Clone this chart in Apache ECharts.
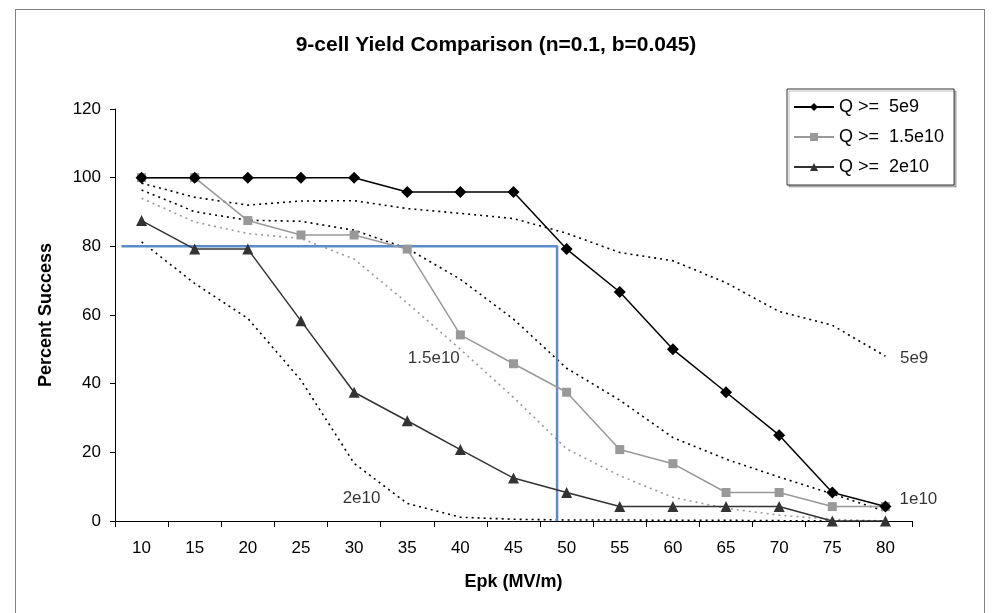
<!DOCTYPE html>
<html>
<head>
<meta charset="utf-8">
<script src="https://cdn.jsdelivr.net/npm/echarts@6/dist/echarts.min.js"></script>
<style>
  html, body { margin: 0; padding: 0; background: #fff; }
  #chart { width: 992px; height: 613px; }
  #frame { position: absolute; left: 15px; top: 9px; width: 968px; height: 700px; border: 1px solid #808080; pointer-events: none; }
</style>
</head>
<body>
<div id="chart"></div>
<div id="frame"></div>
<script>
// Categories (Epk, MV/m)
const epk = ['10','15','20','25','30','35','40','45','50','55','60','65','70','75','80'];

// Measured yields (percent success)
const q5e9   = [100,100,100,100,100,95.8,95.8,95.8,79.2,66.7,50,37.5,25,8.3,4.2];
const q15e10 = [100,100,87.5,83.3,83.3,79.2,54.2,45.8,37.5,20.8,16.7,8.3,8.3,4.2,4.2];
const q2e10  = [87.5,79.2,79.2,58.3,37.5,29.2,20.8,12.5,8.3,4.2,4.2,4.2,4.2,0,0];

// Model curves (dotted)
const fit5e9   = [98.4,94.3,92,93.2,93.3,91,89.6,88.1,83.8,78.2,75.8,69.4,61,57,48];
const fit1e10  = [96.4,90.1,87.6,87.3,84.7,79.4,70.4,58.8,44.5,35.2,24.3,18,12.8,7.9,2.8];
const fit15e10 = [94,87.1,83.7,82.3,76.3,63.5,50,36,21,13.2,6.9,3.7,1.7,0.5,0];
const fit2e10  = [81.3,69.2,59,41,16.8,5.1,1.1,0.5,0.3,0.3,0.2,0.2,0.1,0,0];

// Curve label texts and anchor positions in data space (Epk, %)
const curveLabelText = ['5e9','1e10','1.5e10','2e10'];
const curveLabelX = [82.7,83.1,37.5,30.7];
const curveLabelY = [47.5,6.4,47.5,6.7];

// 80% yield guide line (Epk, %)
const guideX = [8.1,49.1,49.1];
const guideY = [80,80,0];

// Y-axis ticks
const yMin = 0, yMax = 120, yStep = 20;

const chart = echarts.init(document.getElementById('chart'));
const font = 'Arial, "Liberation Sans", sans-serif';

const dotted = (name, data, color) => ({
  name, type: 'line', data, xAxisIndex: 0, yAxisIndex: 0,
  symbol: 'none', z: 1, silent: true,
  lineStyle: { color, width: 1.6, type: [2, 4] }
});

chart.setOption({
  animation: false,
  backgroundColor: '#fff',
  textStyle: { fontFamily: font },
  title: {
    text: '9-cell Yield Comparison (n=0.1, b=0.045)',
    left: 'center', top: 35, padding: 0,
    textStyle: { fontFamily: font, fontSize: 21, fontWeight: 'bold', color: '#000' }
  },
  legend: {
    data: ['Q >=  5e9', 'Q >=  1.5e10', 'Q >=  2e10'],
    orient: 'vertical', left: 787, top: 89,
    padding: [9, 10, 9, 6], itemGap: 12,
    itemWidth: 40, itemHeight: 10,
    borderColor: '#333', borderWidth: 1,
    backgroundColor: '#fff',
    shadowColor: 'rgba(0,0,0,0.25)', shadowOffsetX: 2, shadowOffsetY: 2, shadowBlur: 0,
    textStyle: { fontFamily: font, fontSize: 18, color: '#000' },
    selectedMode: false
  },
  grid: { left: 115, right: 80, top: 109, bottom: 92 },
  xAxis: [
    {
      type: 'category', data: epk, boundaryGap: true,
      name: 'Epk (MV/m)', nameLocation: 'middle', nameGap: 52,
      nameTextStyle: { fontFamily: font, fontSize: 18, fontWeight: 'bold', color: '#000' },
      axisLine: { lineStyle: { color: '#000', width: 1 } },
      axisTick: { show: true, interval: 0, length: 6, lineStyle: { color: '#000' } },
      axisLabel: { interval: 0, margin: 19, fontSize: 17, color: '#000', fontFamily: font },
      splitLine: { show: false }
    },
    {
      type: 'value', min: 7.5, max: 82.5, show: false
    }
  ],
  yAxis: {
    type: 'value', min: yMin, max: yMax, interval: yStep,
    name: 'Percent Success', nameLocation: 'middle', nameGap: 60, nameRotate: 90,
    nameTextStyle: { fontFamily: font, fontSize: 18, fontWeight: 'bold', color: '#000' },
    axisLine: { show: true, lineStyle: { color: '#000', width: 1 } },
    axisTick: { show: true, length: 5, lineStyle: { color: '#000' } },
    axisLabel: { margin: 14, fontSize: 17, color: '#000', fontFamily: font },
    splitLine: { show: false }
  },
  series: [
    dotted('fit 5e9', fit5e9, '#000'),
    dotted('fit 1e10', fit1e10, '#000'),
    dotted('fit 1.5e10', fit15e10, '#999'),
    dotted('fit 2e10', fit2e10, '#000'),
    {
      name: 'guide', type: 'line', xAxisIndex: 1, yAxisIndex: 0, z: 2, silent: true,
      symbol: 'none',
      data: guideX.map((x, i) => [x, guideY[i]]),
      lineStyle: { color: '#5b8bc9', width: 2.5 }
    },
    {
      name: 'Q >=  5e9', type: 'line', data: q5e9, z: 5,
      symbol: 'diamond', symbolSize: 12,
      itemStyle: { color: '#000' },
      lineStyle: { color: '#000', width: 1.5 }
    },
    {
      name: 'Q >=  1.5e10', type: 'line', data: q15e10, z: 4,
      symbol: 'rect', symbolSize: 9,
      itemStyle: { color: '#999' },
      lineStyle: { color: '#999', width: 1.5 }
    },
    {
      name: 'Q >=  2e10', type: 'line', data: q2e10, z: 4,
      symbol: 'triangle', symbolSize: 11,
      itemStyle: { color: '#333' },
      lineStyle: { color: '#333', width: 1.5 }
    },
    {
      name: 'curve labels', type: 'scatter', xAxisIndex: 1, yAxisIndex: 0,
      symbolSize: 0, clip: false, silent: true, z: 6,
      data: curveLabelText.map((t, i) => ({ name: t, value: [curveLabelX[i], curveLabelY[i]] })),
      label: {
        show: true, position: 'inside', formatter: p => p.name,
        fontFamily: font, fontSize: 17, color: '#000'
      }
    }
  ]
});
</script>
</body>
</html>
